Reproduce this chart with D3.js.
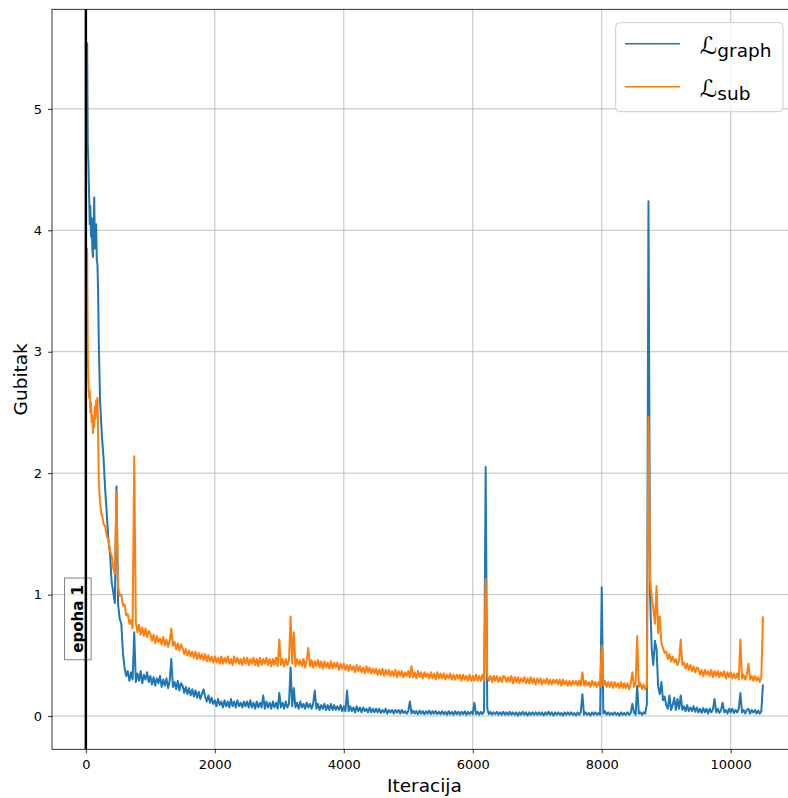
<!DOCTYPE html>
<html><head><meta charset="utf-8">
<script src="https://cdn.jsdelivr.net/npm/d3@7"></script>
<style>body{margin:0;background:#fff}svg{display:block}text{font-family:"DejaVu Sans",sans-serif}</style>
</head><body><svg id="c" width="788" height="798"></svg>
<script>
// ---- data ----
const iterations = [
0,10,20,30,40,50,60,70,80,90,100,110,120,130,140,150,160,170,180,190,200,210,220,230,240,
250,275,300,325,350,375,400,425,450,475,
500,525,550,575,600,625,650,675,700,725,750,775,800,825,850,875,900,925,950,975,
1000,1025,1050,1075,1100,1125,1150,1175,1200,1225,1250,1275,1300,1325,1350,1375,1400,1425,1450,1475,
1500,1525,1550,1575,1600,1625,1650,1675,1700,1725,1750,1775,1800,1825,1850,1875,1900,1925,1950,1975,
2000,2025,2050,2075,2100,2125,2150,2175,2200,2225,2250,2275,2300,2325,2350,2375,2400,2425,2450,2475,
2500,2525,2550,2575,2600,2625,2650,2675,2700,2725,2750,2775,2800,2825,2850,2875,2900,2925,2950,2975,
3000,3025,3050,3075,3100,3125,3150,3175,3200,3225,3250,3275,3300,3325,3350,3375,3400,3425,3450,3475,
3500,3525,3550,3575,3600,3625,3650,3675,3700,3725,3750,3775,3800,3825,3850,3875,3900,3925,3950,3975,
4000,4025,4050,4075,4100,4125,4150,4175,4200,4225,4250,4275,4300,4325,4350,4375,4400,4425,4450,4475,
4500,4525,4550,4575,4600,4625,4650,4675,4700,4725,4750,4775,4800,4825,4850,4875,4900,4925,4950,4975,
5000,5025,5050,5075,5100,5125,5150,5175,5200,5225,5250,5275,5300,5325,5350,5375,5400,5425,5450,5475,
5500,5525,5550,5575,5600,5625,5650,5675,5700,5725,5750,5775,5800,5825,5850,5875,5900,5925,5950,5975,
6000,6025,6050,6075,6100,6125,6150,6175,6200,6225,6250,6275,6300,6325,6350,6375,6400,6425,6450,6475,
6500,6525,6550,6575,6600,6625,6650,6675,6700,6725,6750,6775,6800,6825,6850,6875,6900,6925,6950,6975,
7000,7025,7050,7075,7100,7125,7150,7175,7200,7225,7250,7275,7300,7325,7350,7375,7400,7425,7450,7475,
7500,7525,7550,7575,7600,7625,7650,7675,7700,7725,7750,7775,7800,7825,7850,7875,7900,7925,7950,7975,
8000,8025,8050,8075,8100,8125,8150,8175,8200,8225,8250,8275,8300,8325,8350,8375,8400,8425,8450,8475,
8500,8525,8550,8575,8600,8625,8650,8675,8700,8725,8750,8775,8800,8825,8850,8875,8900,8925,8950,8975,
9000,9025,9050,9075,9100,9125,9150,9175,9200,9225,9250,9275,9300,9325,9350,9375,9400,9425,9450,9475,
9500,9525,9550,9575,9600,9625,9650,9675,9700,9725,9750,9775,9800,9825,9850,9875,9900,9925,9950,9975,
10000,10025,10050,10075,10100,10125,10150,10175,10200,10225,10250,10275,10300,10325,10350,10375,10400,10425,10450,10475,
10500];

const lossGraph = [
5.2,5.35,5.54,4.7,4.55,4.3,4.05,4.2,3.95,4.1,3.85,3.78,4.0,4.27,3.85,3.95,4.05,3.75,3.72,3.5,3.1,2.85,2.6,2.5,2.4,
2.3,2.12,1.86,1.66,1.45,1.34,1.1,1.02,0.93,1.89,
0.92,0.80,0.76,0.52,0.40,0.33,0.37,0.29,0.36,0.30,0.69,0.28,0.35,0.29,0.37,0.27,0.34,0.30,0.36,0.28,
0.33,0.26,0.32,0.25,0.31,0.27,0.33,0.24,0.30,0.25,0.31,0.23,0.29,0.47,0.24,0.28,0.22,0.29,0.21,0.27,
0.25,0.19,0.24,0.18,0.23,0.17,0.22,0.16,0.21,0.15,0.20,0.14,0.18,0.22,0.16,0.12,0.17,0.11,0.15,0.10,
0.13,0.08,0.14,0.09,0.12,0.07,0.13,0.08,0.12,0.07,0.14,0.08,0.12,0.07,0.13,0.08,0.11,0.07,0.12,0.08,
0.12,0.07,0.13,0.07,0.11,0.06,0.12,0.07,0.11,0.07,0.17,0.06,0.12,0.07,0.11,0.06,0.12,0.07,0.11,0.06,
0.19,0.07,0.11,0.06,0.12,0.07,0.10,0.40,0.08,0.23,0.07,0.11,0.06,0.12,0.07,0.10,0.06,0.11,0.07,0.10,
0.06,0.10,0.21,0.06,0.10,0.05,0.09,0.06,0.10,0.05,0.09,0.05,0.10,0.05,0.09,0.05,0.08,0.05,0.09,0.04,
0.08,0.04,0.21,0.04,0.08,0.04,0.07,0.03,0.08,0.04,0.07,0.03,0.07,0.04,0.06,0.03,0.07,0.03,0.06,0.03,
0.06,0.03,0.06,0.025,0.05,0.03,0.06,0.02,0.05,0.03,0.05,0.02,0.05,0.03,0.05,0.02,0.05,0.025,0.04,0.02,
0.04,0.12,0.02,0.045,0.02,0.04,0.015,0.045,0.02,0.04,0.015,0.04,0.02,0.045,0.015,0.04,0.02,0.04,0.015,0.035,
0.015,0.04,0.015,0.035,0.01,0.04,0.015,0.035,0.01,0.04,0.015,0.035,0.01,0.035,0.015,0.04,0.01,0.035,0.015,0.035,
0.015,0.11,0.015,0.035,0.01,0.035,0.015,0.04,2.05,0.06,0.015,0.035,0.01,0.03,0.015,0.035,0.01,0.03,0.01,0.035,
0.01,0.03,0.01,0.035,0.01,0.03,0.01,0.03,0.005,0.03,0.01,0.035,0.01,0.03,0.005,0.03,0.01,0.03,0.01,0.03,
0.01,0.03,0.01,0.03,0.005,0.03,0.01,0.035,0.01,0.03,0.005,0.03,0.01,0.03,0.01,0.025,0.005,0.03,0.01,0.03,
0.01,0.03,0.01,0.025,0.005,0.03,0.01,0.03,0.18,0.01,0.03,0.01,0.025,0.005,0.03,0.01,0.03,0.01,0.025,0.01,
1.06,0.02,0.04,0.01,0.03,0.01,0.025,0.01,0.03,0.01,0.025,0.005,0.03,0.01,0.025,0.01,0.03,0.01,0.025,0.10,
0.03,0.01,0.25,0.02,0.03,0.01,0.03,0.02,0.10,4.24,1.0,0.55,0.42,0.62,0.55,0.24,0.18,0.28,0.13,0.16,
0.09,0.06,0.17,0.05,0.09,0.15,0.05,0.14,0.06,0.17,0.05,0.08,0.04,0.09,0.04,0.07,0.04,0.08,0.035,0.07,
0.03,0.06,0.025,0.065,0.03,0.06,0.02,0.06,0.03,0.055,0.14,0.03,0.06,0.025,0.05,0.11,0.03,0.05,0.02,0.06,
0.03,0.06,0.025,0.05,0.03,0.06,0.19,0.03,0.05,0.02,0.05,0.06,0.02,0.05,0.03,0.05,0.02,0.045,0.02,0.04,
0.26];

const lossSub = [
3.3,3.5,3.85,2.95,2.75,2.62,2.68,2.5,2.58,2.42,2.48,2.33,2.45,2.38,2.55,2.45,2.6,2.5,2.62,2.35,1.95,1.85,1.76,1.72,1.66,
1.66,1.58,1.56,1.48,1.45,1.36,1.32,1.22,1.17,1.85,
1.06,0.99,1.0,0.91,0.92,0.83,0.84,0.76,0.79,0.72,2.14,0.77,0.69,0.75,0.67,0.73,0.66,0.72,0.65,0.70,
0.68,0.62,0.67,0.60,0.66,0.61,0.64,0.59,0.65,0.58,0.63,0.57,0.62,0.72,0.58,0.61,0.55,0.60,0.54,0.59,
0.56,0.51,0.55,0.50,0.54,0.49,0.53,0.48,0.53,0.47,0.52,0.47,0.51,0.46,0.51,0.45,0.50,0.45,0.49,0.44,
0.49,0.44,0.48,0.43,0.49,0.43,0.48,0.44,0.49,0.43,0.47,0.42,0.49,0.44,0.48,0.43,0.47,0.42,0.48,0.43,
0.48,0.42,0.47,0.43,0.48,0.42,0.47,0.41,0.48,0.42,0.47,0.43,0.48,0.42,0.47,0.41,0.47,0.42,0.48,0.41,
0.63,0.42,0.47,0.41,0.47,0.42,0.46,0.82,0.43,0.69,0.41,0.47,0.42,0.46,0.41,0.47,0.40,0.46,0.56,0.41,
0.46,0.40,0.45,0.41,0.46,0.40,0.45,0.39,0.45,0.40,0.44,0.39,0.45,0.39,0.44,0.40,0.44,0.38,0.43,0.39,
0.43,0.38,0.42,0.37,0.42,0.38,0.41,0.36,0.42,0.37,0.41,0.36,0.40,0.35,0.41,0.36,0.40,0.35,0.39,0.35,
0.39,0.34,0.38,0.34,0.39,0.33,0.38,0.34,0.38,0.33,0.37,0.33,0.38,0.32,0.37,0.33,0.37,0.32,0.36,0.33,
0.37,0.32,0.41,0.32,0.36,0.31,0.37,0.32,0.36,0.31,0.36,0.32,0.35,0.31,0.36,0.31,0.35,0.30,0.36,0.31,
0.35,0.31,0.35,0.30,0.34,0.31,0.35,0.30,0.34,0.30,0.34,0.31,0.34,0.29,0.34,0.30,0.33,0.29,0.34,0.29,
0.33,0.29,0.34,0.29,0.33,0.29,0.34,0.29,1.13,0.33,0.29,0.33,0.28,0.33,0.29,0.33,0.28,0.32,0.28,0.33,
0.32,0.28,0.32,0.28,0.33,0.27,0.32,0.28,0.32,0.27,0.31,0.28,0.32,0.27,0.31,0.27,0.32,0.27,0.31,0.26,
0.31,0.27,0.31,0.26,0.30,0.27,0.31,0.26,0.30,0.26,0.30,0.27,0.30,0.26,0.30,0.25,0.30,0.26,0.29,0.25,
0.29,0.25,0.29,0.26,0.29,0.25,0.29,0.25,0.36,0.25,0.29,0.25,0.28,0.24,0.29,0.25,0.28,0.24,0.28,0.24,
0.58,0.25,0.29,0.24,0.28,0.24,0.28,0.23,0.28,0.24,0.27,0.23,0.28,0.23,0.27,0.23,0.27,0.22,0.27,0.36,
0.24,0.27,0.66,0.24,0.27,0.22,0.26,0.22,0.25,2.46,1.12,0.98,0.88,0.76,1.07,0.68,0.82,0.60,0.56,0.52,
0.53,0.47,0.51,0.45,0.49,0.44,0.47,0.42,0.46,0.63,0.42,0.44,0.39,0.43,0.38,0.42,0.37,0.41,0.36,0.40,
0.39,0.34,0.38,0.33,0.38,0.34,0.37,0.33,0.38,0.32,0.37,0.33,0.37,0.32,0.36,0.33,0.37,0.31,0.36,0.32,
0.36,0.31,0.35,0.31,0.35,0.30,0.63,0.31,0.34,0.30,0.34,0.43,0.30,0.33,0.29,0.33,0.29,0.32,0.28,0.32,
0.82];

const seriesKeys = ["graph", "sub"];
const seriesColors = ["#1f77b4", "#ff7f0e"];
const xTicks = [0, 2000, 4000, 6000, 8000, 10000];
const yTicks = [0, 1, 2, 3, 4, 5];
const xLabel = "Iteracija";
const yLabel = "Gubitak";
const epochIteration = 0;
const epochLabel = "epoha 1";
const epochLabelY = 0.8;
const epochLabelX = -124;

if (lossGraph.length !== iterations.length || lossSub.length !== iterations.length)
  console.error("length mismatch", iterations.length, lossGraph.length, lossSub.length);

// ---- layout ----
const svg = d3.select("#c");
const L = 52, R = 796.8, T = 9.3, B = 749.3;
const x = d3.scaleLinear().domain([-525, 11025]).range([L, R]);
const y = d3.scaleLinear().domain([-0.274, 5.82]).range([B, T]);

svg.append("defs").append("clipPath").attr("id", "clip")
  .append("rect").attr("x", L).attr("y", T).attr("width", R - L).attr("height", B - T);

// grid
const grid = svg.append("g").attr("stroke", "#b0b0b0").attr("stroke-width", 0.8);
grid.selectAll(".gx").data(xTicks).join("line")
  .attr("x1", d => x(d)).attr("x2", d => x(d)).attr("y1", T).attr("y2", B);
grid.selectAll(".gy").data(yTicks).join("line")
  .attr("y1", d => y(d)).attr("y2", d => y(d)).attr("x1", L).attr("x2", R);

// lines
const plot = svg.append("g").attr("clip-path", "url(#clip)");
[lossGraph, lossSub].forEach((vals, k) => {
  const line = d3.line().x((d, i) => x(iterations[i])).y(d => y(d));
  plot.append("path").datum(vals).attr("d", line)
    .attr("fill", "none").attr("stroke", seriesColors[k])
    .attr("stroke-width", 2).attr("stroke-linejoin", "round");
});

// epoch box, line, text
const eg = svg.append("g")
  .attr("transform", `translate(${x(epochLabelX)},${y(epochLabelY)}) rotate(-90)`);
const eRect = eg.append("rect");
const eText = eg.append("text").text(epochLabel)
  .attr("text-anchor", "middle").attr("dominant-baseline", "central")
  .attr("font-weight", "bold").attr("font-size", "15px").attr("fill", "#000");
const bb = eText.node().getBBox();
eRect.attr("x", bb.x - 7).attr("y", bb.y - 4.3).attr("width", bb.width + 14).attr("height", bb.height + 8.6)
  .attr("fill", "#fff").attr("fill-opacity", 0.5).attr("stroke", "#808080").attr("stroke-width", 1);
svg.append("line")
  .attr("x1", x(epochIteration)).attr("x2", x(epochIteration)).attr("y1", T).attr("y2", B)
  .attr("stroke", "#000").attr("stroke-width", 2.5);

// axes
const ax = svg.append("g").attr("transform", `translate(0,${B})`)
  .call(d3.axisBottom(x).tickValues(xTicks).tickSize(4).tickPadding(6.5).tickFormat(d3.format("d")));
const ay = svg.append("g").attr("transform", `translate(${L},0)`)
  .call(d3.axisLeft(y).tickValues(yTicks).tickSize(4).tickPadding(6).tickFormat(d3.format("d")));
[ax, ay].forEach(a => {
  a.select(".domain").remove();
  a.selectAll("text").attr("font-size", "13px").attr("font-family", "DejaVu Sans").attr("fill", "#000");
  a.selectAll("line").attr("stroke", "#000").attr("stroke-width", 0.8);
});
// spines
svg.append("rect").attr("x", L).attr("y", T).attr("width", R - L).attr("height", B - T)
  .attr("fill", "none").attr("stroke", "#000").attr("stroke-width", 0.8);

// axis labels
svg.append("text").attr("x", (L + R) / 2).attr("y", 791.5).attr("text-anchor", "middle")
  .attr("font-size", "18.5px").attr("fill", "#000").text(xLabel);
svg.append("text").attr("transform", `translate(26.5,${(T + B) / 2}) rotate(-90)`)
  .attr("text-anchor", "middle").attr("font-size", "18.5px").attr("fill", "#000").text(yLabel);

// legend
const lg = svg.append("g");
lg.append("rect").attr("x", 615.7).attr("y", 22.7).attr("width", 167.3).attr("height", 89).attr("rx", 4)
  .attr("fill", "#fff").attr("fill-opacity", 0.8).attr("stroke", "#cccccc").attr("stroke-width", 1);
seriesKeys.forEach((k, i) => {
  const cy = 43.7 + i * 43;
  lg.append("line").attr("x1", 625).attr("x2", 680).attr("y1", cy).attr("y2", cy)
    .attr("stroke", seriesColors[i]).attr("stroke-width", 1.5);
  const t = lg.append("text").attr("x", 700).attr("y", cy + 10).attr("fill", "#000");
  t.append("tspan").attr("font-size", "24px").text("ℒ");
  t.append("tspan").attr("font-size", "18.5px").attr("dy", 3).text(k);
});
</script></body></html>
